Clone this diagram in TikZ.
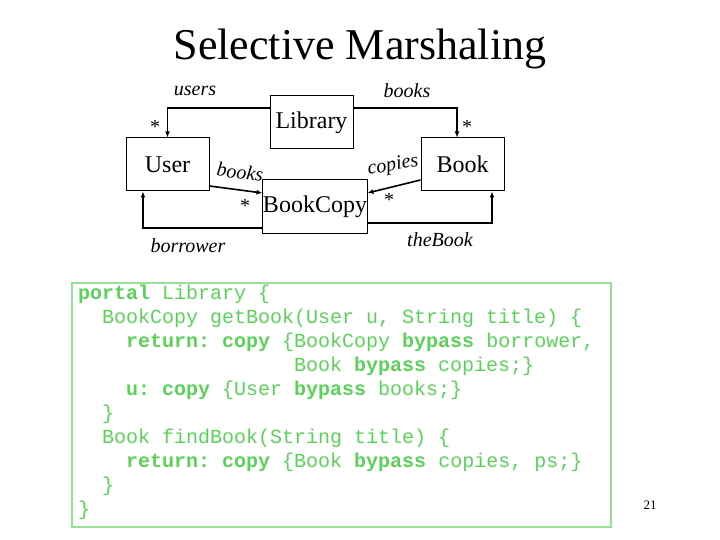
\documentclass[tikz,border=0pt]{standalone}
\usepackage{fontspec}
\setmainfont{Liberation Serif}
\setmonofont{Liberation Mono}
\usetikzlibrary{arrows.meta}
\definecolor{codegreen}{RGB}{90,210,90}
\definecolor{codeborder}{RGB}{150,225,150}
\tikzset{
  cls/.style={draw=black, line width=1pt, inner sep=0pt, minimum height=53pt, font=\fontsize{24}{28}\selectfont},
  conn/.style={line width=1.6pt, -{Latex[length=6pt,width=5pt]}},
  role/.style={inner sep=0pt, font=\fontsize{20}{22}\selectfont\itshape},
  mult/.style={inner sep=0pt, font=\fontsize{20}{22}\selectfont},
  code/.style={anchor=base west, inner sep=0pt, text=codegreen, font=\fontsize{20}{24}\selectfont\ttfamily},
}
\begin{document}
\begin{tikzpicture}[x=1pt, y=-1pt]
\useasboundingbox (0,0) rectangle (720,540);
% title
\node[anchor=base, inner sep=0pt, font=\fontsize{44}{50}\selectfont] (title) at (360,60) {Selective Marshaling};
% classes
\node[cls, minimum width=83pt] (Library) at (311.5,122.5) {Library};
\node[cls, minimum width=83pt] (User) at (167.5,164.5) {User};
\node[cls, minimum width=83pt] (Book) at (462.5,164.5) {Book};
\node[cls, minimum width=102pt] (BookCopy) at (315,206.5) {BookCopy};
% connectors
\draw[conn] ([yshift=14.5pt]Library.west) -| (User.north);
\draw[conn] ([yshift=14.5pt]Library.east) -| ([xshift=-5.5pt]Book.north);
\draw[conn] ([yshift=-21.5pt]User.east) -- ([yshift=13.5pt]BookCopy.west);
\draw[conn] ([yshift=-15.5pt]Book.west) -- ([yshift=13.5pt]BookCopy.east);
\draw[conn] ([yshift=-21.5pt]BookCopy.west) -| ([xshift=-24.5pt]User.south);
\draw[conn] ([yshift=-16.5pt]BookCopy.east) -| ([xshift=29.5pt]Book.south);
% labels
\node[role] (lusers) at (195,91) {users};
\node[mult] (musers) at (155,127) {*};
\node[role] (lbooks) at (407,91) {books};
\node[mult] (mbooks) at (467,127) {*};
\node[role, rotate=-7] (lubooks) at (240,172) {books};
\node[mult] (mubooks) at (245,206) {*};
\node[role, rotate=10] (lcopies) at (393,166) {copies};
\node[mult] (mcopies) at (389,200) {*};
\node[role] (lborrower) at (188,246) {borrower};
\node[role] (lthebook) at (440,240) {theBook};
% code box
\draw[codeborder, line width=1.5pt] (72,283) rectangle (611,527);
\node[code] (c1) at (78,299) {\textbf{portal} Library \{};
\node[code] (c2) at (102,323) {BookCopy getBook(User u, String title) \{};
\node[code] (c3) at (126,347) {\textbf{return:} \textbf{copy} \{BookCopy \textbf{bypass} borrower,};
\node[code] (c4) at (294,371) {Book \textbf{bypass} copies;\}};
\node[code] (c5) at (126,395) {\textbf{u:} \textbf{copy} \{User \textbf{bypass} books;\}};
\node[code] (c6) at (102,419) {\}};
\node[code] (c7) at (102,443) {Book findBook(String title) \{};
\node[code] (c8) at (126,467) {\textbf{return:} \textbf{copy} \{Book \textbf{bypass} copies, ps;\}};
\node[code] (c9) at (102,491) {\}};
\node[code] (c10) at (78,515) {\}};
% page number
\node[inner sep=0pt, font=\fontsize{13}{15}\selectfont] (page) at (650,505) {21};
\end{tikzpicture}
\end{document}
